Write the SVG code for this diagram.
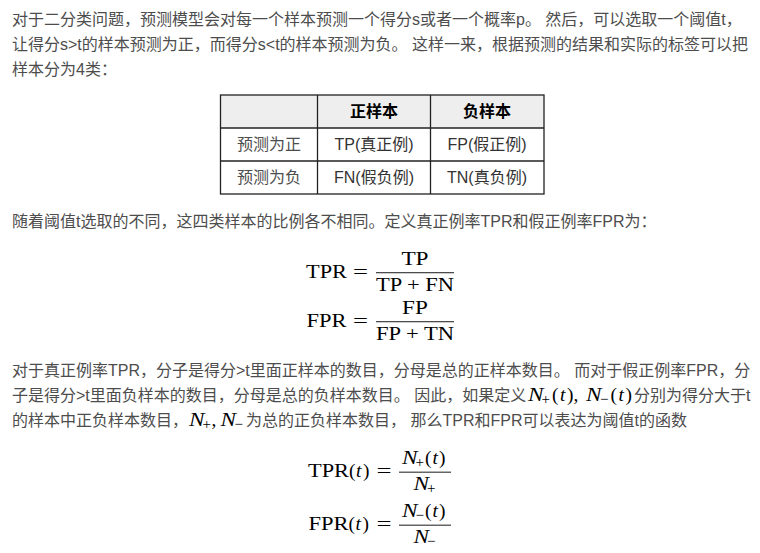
<svg xmlns="http://www.w3.org/2000/svg" width="760" height="553" viewBox="0 0 760 553">
<style>
.t{font-family:"Liberation Sans","Noto Sans CJK SC",sans-serif;font-size:16px;fill:#4d4d4d}
.c{font-family:"Liberation Sans","Noto Sans CJK SC",sans-serif;font-size:16px;fill:#333;text-anchor:middle}
.h{font-family:"Liberation Sans","Noto Sans CJK SC",sans-serif;font-size:16px;font-weight:bold;fill:#000;text-anchor:middle}
.m{font-family:"Liberation Serif","DejaVu Serif",serif;font-size:19.4px;fill:#000}
.i{font-style:italic}
.s{font-size:15px}
.ln{stroke:#222;stroke-width:1.3;fill:none}
</style>
<rect width="760" height="553" fill="#fff"/>

<g id="para1">
<text class="t" x="12" y="24.5">对于二分类问题，预测模型会对每一个样本预测一个得分s或者一个概率p。 然后，可以选取一个阈值t，</text>
<text class="t" x="12" y="49.5">让得分s&gt;t的样本预测为正，而得分s&lt;t的样本预测为负。 这样一来，根据预测的结果和实际的标签可以把</text>
<text class="t" x="12" y="74.5">样本分为4类：</text>
</g>

<g id="table">
<rect x="220.5" y="95" width="323.5" height="33" fill="#eee"/>
<rect class="ln" x="220.5" y="95" width="323.5" height="99"/>
<line class="ln" x1="220.5" y1="128" x2="544" y2="128"/>
<line class="ln" x1="220.5" y1="161" x2="544" y2="161"/>
<line class="ln" x1="317.5" y1="95" x2="317.5" y2="194"/>
<line class="ln" x1="430.5" y1="95" x2="430.5" y2="194"/>
<text class="h" x="374" y="116.7">正样本</text>
<text class="h" x="487" y="116.7">负样本</text>
<text class="c" x="269" y="150.3" style="fill:#4d4d4d">预测为正</text>
<text class="c" x="374" y="150.3">TP(真正例)</text>
<text class="c" x="487" y="150.3">FP(假正例)</text>
<text class="c" x="269" y="183.3" style="fill:#4d4d4d">预测为负</text>
<text class="c" x="374" y="183.3">FN(假负例)</text>
<text class="c" x="487" y="183.3">TN(真负例)</text>
</g>

<g id="para2">
<text class="t" x="12" y="226.5">随着阈值t选取的不同，这四类样本的比例各不相同。定义真正例率TPR和假正例率FPR为：</text>
</g>

<g id="eq1">
<text class="m" x="306" y="278" textLength="41" lengthAdjust="spacingAndGlyphs">TPR</text>
<text class="m" x="353" y="278" textLength="15" lengthAdjust="spacingAndGlyphs">=</text>
<text class="m" x="401.4" y="265" textLength="27.2" lengthAdjust="spacingAndGlyphs">TP</text>
<rect x="376" y="272.3" width="78" height="0.9" fill="#000"/>
<text class="m" x="376" y="291.3" textLength="78" lengthAdjust="spacingAndGlyphs">TP + FN</text>
</g>

<g id="eq2">
<text class="m" x="306.5" y="327" textLength="40" lengthAdjust="spacingAndGlyphs">FPR</text>
<text class="m" x="353" y="327" textLength="15" lengthAdjust="spacingAndGlyphs">=</text>
<text class="m" x="402.1" y="314" textLength="25.8" lengthAdjust="spacingAndGlyphs">FP</text>
<rect x="376" y="321.3" width="78" height="0.9" fill="#000"/>
<text class="m" x="376" y="340.3" textLength="78" lengthAdjust="spacingAndGlyphs">FP + TN</text>
</g>

<g id="para3">
<text class="t" x="12" y="376">对于真正例率TPR，分子是得分&gt;t里面正样本的数目，分母是总的正样本数目。 而对于假正例率FPR，分</text>
<text class="t" x="12" y="401">子是得分&gt;t里面负样本的数目，分母是总的负样本数目。 因此，如果定义</text>
<text class="m i" x="528" y="401" textLength="15.5" lengthAdjust="spacingAndGlyphs">N</text>
<text class="m s" x="541.5" y="404">+</text>
<text class="m" x="552" y="401">(</text>
<text class="m i" x="560" y="401">t</text>
<text class="m" x="567" y="401">),</text>
<text class="m i" x="586" y="401" textLength="15.5" lengthAdjust="spacingAndGlyphs">N</text>
<text class="m s" x="600" y="404">−</text>
<text class="m" x="610.5" y="401">(</text>
<text class="m i" x="618.5" y="401">t</text>
<text class="m" x="625.5" y="401">)</text>
<text class="t" x="634" y="401">分别为得分大于t</text>
<text class="t" x="12" y="426">的样本中正负样本数目，</text>
<text class="m i" x="189" y="426" textLength="15.5" lengthAdjust="spacingAndGlyphs">N</text>
<text class="m s" x="202.5" y="429">+</text>
<text class="m" x="211.5" y="426">,</text>
<text class="m i" x="220.5" y="426" textLength="15.5" lengthAdjust="spacingAndGlyphs">N</text>
<text class="m s" x="234.5" y="429">−</text>
<text class="t" x="246" y="426">为总的正负样本数目， 那么TPR和FPR可以表达为阈值t的函数</text>
</g>

<g id="eq3">
<text class="m" x="308" y="477" textLength="41" lengthAdjust="spacingAndGlyphs">TPR</text>
<text class="m" x="349" y="477">(</text>
<text class="m i" x="356" y="477">t</text>
<text class="m" x="363" y="477">)</text>
<text class="m" x="376.5" y="477" textLength="15" lengthAdjust="spacingAndGlyphs">=</text>
<text class="m i" x="402" y="463.5" textLength="15.5" lengthAdjust="spacingAndGlyphs">N</text>
<text class="m s" x="415.5" y="466.5">+</text>
<text class="m" x="425" y="463.5">(</text>
<text class="m i" x="432.5" y="463.5">t</text>
<text class="m" x="439" y="463.5">)</text>
<rect x="399" y="471.7" width="52" height="0.9" fill="#000"/>
<text class="m i" x="413.5" y="490" textLength="15.5" lengthAdjust="spacingAndGlyphs">N</text>
<text class="m s" x="427" y="493">+</text>
</g>

<g id="eq4">
<text class="m" x="308.5" y="530" textLength="40" lengthAdjust="spacingAndGlyphs">FPR</text>
<text class="m" x="348.5" y="530">(</text>
<text class="m i" x="355.5" y="530">t</text>
<text class="m" x="362.5" y="530">)</text>
<text class="m" x="376.5" y="530" textLength="15" lengthAdjust="spacingAndGlyphs">=</text>
<text class="m i" x="402" y="516.5" textLength="15.5" lengthAdjust="spacingAndGlyphs">N</text>
<text class="m s" x="415.5" y="519.5">−</text>
<text class="m" x="425" y="516.5">(</text>
<text class="m i" x="432.5" y="516.5">t</text>
<text class="m" x="439" y="516.5">)</text>
<rect x="399" y="524.7" width="52" height="0.9" fill="#000"/>
<text class="m i" x="413.5" y="543" textLength="15.5" lengthAdjust="spacingAndGlyphs">N</text>
<text class="m s" x="427" y="546">−</text>
</g>
</svg>
